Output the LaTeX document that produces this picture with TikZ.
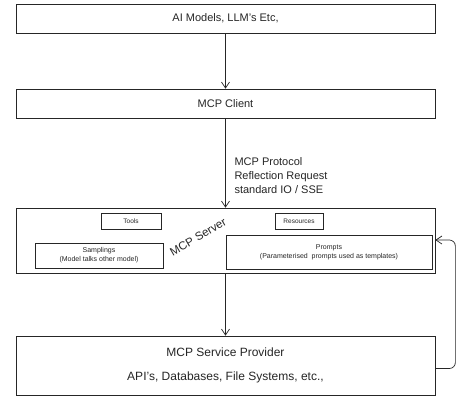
\documentclass[tikz,border=0pt]{standalone}
\usepackage{fontspec}
\setmainfont{Liberation Sans}
\usetikzlibrary{arrows.meta,calc}

\begin{document}
\begin{tikzpicture}[x=1pt,y=-1pt,
    line/.style={draw=black!85,line width=0.7pt},
    box/.style={line,rectangle,inner sep=0pt,align=center,text=black!85},
    arr/.style={line,-{Straight Barb[length=6pt,width=8pt]}}]
  \useasboundingbox[fill=white] (0,0) rectangle (468,400);

  % layers
  \node[box,minimum width=419pt,minimum height=29pt,font=\fontsize{11}{13}\selectfont]
    (models) at (225.5,18.5) {AI Models, LLM's Etc,};
  \node[box,minimum width=419pt,minimum height=29pt,font=\fontsize{11}{13}\selectfont]
    (client) at (225.5,103.5) {MCP Client};
  \node[box,minimum width=419pt,minimum height=65pt] (server) at (225.5,240.5) {};
  \node[box,minimum width=419pt,minimum height=59pt,font=\fontsize{12}{14}\selectfont]
    (provider) at (225.5,365.5) {MCP Service Provider\\[10pt]API's, Databases, File Systems, etc.,};

  % inside the server
  \node[box,minimum width=60pt,minimum height=16pt,font=\fontsize{6.5}{8}\selectfont]
    (tools) at (131,221) {Tools};
  \node[box,minimum width=48pt,minimum height=16pt,font=\fontsize{6.5}{8}\selectfont]
    (resources) at (299,221) {Resources};
  \node[box,minimum width=128pt,minimum height=25pt,font=\fontsize{7}{9}\selectfont]
    (samplings) at (99,255.5) {Samplings\\(Model talks other model)};
  \node[box,minimum width=206pt,minimum height=34pt,font=\fontsize{7}{9}\selectfont]
    (prompts) at (329,252) {Prompts\\(Parameterised\ \ prompts used as templates)};
  \node[rotate=30,inner sep=0pt,text=black!85,font=\fontsize{11.5}{13}\selectfont]
    (servername) at (198,237) {MCP Server};

  % connectors
  \draw[arr] (models) -- (client);
  \draw[arr] (client) -- (server);
  \node[anchor=west,align=left,text=black!85,font=\fontsize{11}{14}\selectfont]
    (protocol) at (231,176) {MCP Protocol\\Reflection Request\\standard IO / SSE};
  \draw[arr] (server) -- (provider);
  \draw[arr,rounded corners=6pt] ([yshift=-3pt]provider.east) -- ++(20,0)
    |- ([xshift=3pt,yshift=12pt]prompts.east);
\end{tikzpicture}
\end{document}
